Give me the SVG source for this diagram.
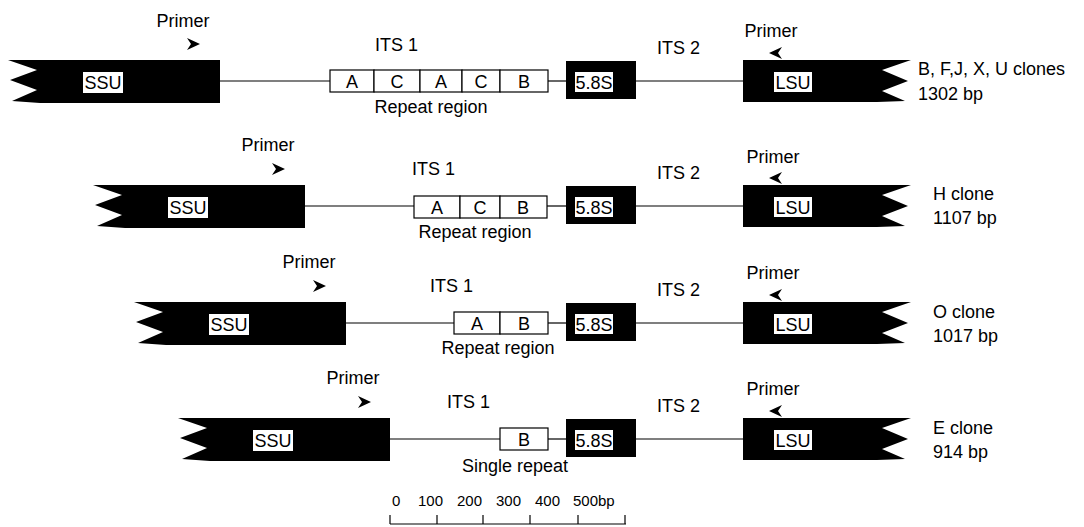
<svg xmlns="http://www.w3.org/2000/svg" width="1084" height="527" viewBox="0 0 1084 527">
<style>
text{font-family:"Liberation Sans",Arial,Helvetica,sans-serif;font-size:18px;fill:#000}
.c{text-anchor:middle}
.blk{fill:#000}
.bg{fill:#fff}
.box{fill:#fff;stroke:#000;stroke-width:1.2}
.ln{stroke:#000;stroke-width:1.2;fill:none}
.sc{font-size:15px}
</style>
<defs>
<path id="ssu" d="M0,-21 H212 V22 H32 L4,20 L29,9 L2,-1 L29,-11 Z"/>
<path id="lsu" d="M0,-21 H168 L139,-11 L165,0 L139,10 L162,20 L134,21 H0 Z"/>
<path id="arR" d="M0,0 L-13,-6 L-9,0 L-13,6 Z"/>
<path id="arL" d="M0,0 L13,-6 L9,0 L13,6 Z"/>
</defs>

<g id="connectors">
<line class="ln" x1="220" y1="81" x2="330" y2="81"/>
<line class="ln" x1="548" y1="81" x2="566" y2="81"/>
<line class="ln" x1="636" y1="81" x2="743" y2="81"/>
<line class="ln" x1="305" y1="206" x2="414" y2="206"/>
<line class="ln" x1="547" y1="206" x2="566" y2="206"/>
<line class="ln" x1="636" y1="206" x2="743" y2="206"/>
<line class="ln" x1="346" y1="323" x2="454" y2="323"/>
<line class="ln" x1="548" y1="323" x2="566" y2="323"/>
<line class="ln" x1="636" y1="323" x2="743" y2="323"/>
<line class="ln" x1="390" y1="439" x2="500" y2="439"/>
<line class="ln" x1="548" y1="439" x2="566" y2="439"/>
<line class="ln" x1="636" y1="439" x2="743" y2="439"/>
</g>

<!-- Row 1 -->
<g id="row1-ssu">
<use href="#ssu" class="blk" transform="translate(8,81)"/>
<rect class="bg" x="83" y="72" width="40" height="21"/>
<text class="c" x="103" y="89">SSU</text>
<text class="c" x="183" y="27">Primer</text>
<use href="#arR" class="blk" transform="translate(200,44)"/>
</g>
<g id="row1-its1">
<text x="375" y="51">ITS 1</text>
<rect class="box" x="330" y="70" width="44" height="22"/>
<rect class="box" x="374" y="70" width="46" height="22"/>
<rect class="box" x="420" y="70" width="42" height="22"/>
<rect class="box" x="462" y="70" width="38" height="22"/>
<rect class="box" x="500" y="70" width="48" height="22"/>
<text class="c" x="352" y="88">A</text>
<text class="c" x="397" y="88">C</text>
<text class="c" x="441" y="88">A</text>
<text class="c" x="481" y="88">C</text>
<text class="c" x="524" y="88">B</text>
<text class="c" x="431" y="113">Repeat region</text>
</g>
<g id="row1-58s">
<rect class="blk" x="566" y="61" width="70" height="38"/>
<rect class="bg" x="575" y="72" width="38" height="20"/>
<text class="c" x="594" y="89">5.8S</text>
</g>
<g id="row1-its2"><text x="657" y="54">ITS 2</text></g>
<g id="row1-lsu">
<use href="#lsu" class="blk" transform="translate(743,81)"/>
<rect class="bg" x="774" y="72" width="38" height="20"/>
<text class="c" x="793" y="89">LSU</text>
<text class="c" x="771" y="37">Primer</text>
<use href="#arL" class="blk" transform="translate(769,53)"/>
</g>
<g id="row1-label">
<text x="918" y="75">B, F,J, X, U clones</text>
<text x="918" y="100">1302 bp</text>
</g>

<!-- Row 2 -->
<g id="row2-ssu">
<use href="#ssu" class="blk" transform="translate(93,206)"/>
<rect class="bg" x="168" y="197" width="40" height="21"/>
<text class="c" x="188" y="214">SSU</text>
<text class="c" x="268" y="151">Primer</text>
<use href="#arR" class="blk" transform="translate(285,169)"/>
</g>
<g id="row2-its1">
<text x="412" y="175">ITS 1</text>
<rect class="box" x="414" y="196" width="46" height="22"/>
<rect class="box" x="460" y="196" width="40" height="22"/>
<rect class="box" x="500" y="196" width="47" height="22"/>
<text class="c" x="437" y="214">A</text>
<text class="c" x="480" y="214">C</text>
<text class="c" x="523" y="214">B</text>
<text class="c" x="475" y="238">Repeat region</text>
</g>
<g id="row2-58s">
<rect class="blk" x="566" y="186" width="70" height="38"/>
<rect class="bg" x="575" y="197" width="38" height="20"/>
<text class="c" x="594" y="214">5.8S</text>
</g>
<g id="row2-its2"><text x="657" y="179">ITS 2</text></g>
<g id="row2-lsu">
<use href="#lsu" class="blk" transform="translate(743,206)"/>
<rect class="bg" x="774" y="197" width="38" height="20"/>
<text class="c" x="793" y="214">LSU</text>
<text class="c" x="773" y="163">Primer</text>
<use href="#arL" class="blk" transform="translate(769,178)"/>
</g>
<g id="row2-label">
<text x="933" y="200">H clone</text>
<text x="933" y="224">1107 bp</text>
</g>

<!-- Row 3 -->
<g id="row3-ssu">
<use href="#ssu" class="blk" transform="translate(134,323)"/>
<rect class="bg" x="209" y="314" width="40" height="21"/>
<text class="c" x="229" y="331">SSU</text>
<text class="c" x="309" y="268">Primer</text>
<use href="#arR" class="blk" transform="translate(326,286)"/>
</g>
<g id="row3-its1">
<text x="430" y="292">ITS 1</text>
<rect class="box" x="454" y="312" width="46" height="22"/>
<rect class="box" x="500" y="312" width="48" height="22"/>
<text class="c" x="477" y="330">A</text>
<text class="c" x="524" y="330">B</text>
<text class="c" x="498" y="354">Repeat region</text>
</g>
<g id="row3-58s">
<rect class="blk" x="566" y="303" width="70" height="38"/>
<rect class="bg" x="575" y="314" width="38" height="20"/>
<text class="c" x="594" y="331">5.8S</text>
</g>
<g id="row3-its2"><text x="657" y="296">ITS 2</text></g>
<g id="row3-lsu">
<use href="#lsu" class="blk" transform="translate(743,323)"/>
<rect class="bg" x="774" y="314" width="38" height="20"/>
<text class="c" x="793" y="331">LSU</text>
<text class="c" x="773" y="279">Primer</text>
<use href="#arL" class="blk" transform="translate(769,295)"/>
</g>
<g id="row3-label">
<text x="933" y="318">O clone</text>
<text x="933" y="342">1017 bp</text>
</g>

<!-- Row 4 -->
<g id="row4-ssu">
<use href="#ssu" class="blk" transform="translate(178,439)"/>
<rect class="bg" x="253" y="430" width="40" height="21"/>
<text class="c" x="273" y="447">SSU</text>
<text class="c" x="353" y="384">Primer</text>
<use href="#arR" class="blk" transform="translate(371,402)"/>
</g>
<g id="row4-its1">
<text x="447" y="408">ITS 1</text>
<rect class="box" x="500" y="428" width="48" height="22"/>
<text class="c" x="524" y="446">B</text>
<text class="c" x="515" y="472">Single repeat</text>
</g>
<g id="row4-58s">
<rect class="blk" x="566" y="419" width="70" height="38"/>
<rect class="bg" x="575" y="430" width="38" height="20"/>
<text class="c" x="594" y="447">5.8S</text>
</g>
<g id="row4-its2"><text x="657" y="412">ITS 2</text></g>
<g id="row4-lsu">
<use href="#lsu" class="blk" transform="translate(743,439)"/>
<rect class="bg" x="774" y="430" width="38" height="20"/>
<text class="c" x="793" y="447">LSU</text>
<text class="c" x="773" y="395">Primer</text>
<use href="#arL" class="blk" transform="translate(769,411)"/>
</g>
<g id="row4-label">
<text x="933" y="434">E clone</text>
<text x="933" y="458">914 bp</text>
</g>

<!-- Scale bar -->
<g id="scale">
<line class="ln" x1="390" y1="524" x2="626" y2="524"/>
<line class="ln" x1="390" y1="515" x2="390" y2="524"/>
<line class="ln" x1="437" y1="515" x2="437" y2="524"/>
<line class="ln" x1="483" y1="515" x2="483" y2="524"/>
<line class="ln" x1="530" y1="515" x2="530" y2="524"/>
<line class="ln" x1="578" y1="515" x2="578" y2="524"/>
<line class="ln" x1="625" y1="515" x2="625" y2="524"/>
<text class="sc" x="392" y="506">0</text>
<text class="sc" x="418" y="506">100</text>
<text class="sc" x="457" y="506">200</text>
<text class="sc" x="496" y="506">300</text>
<text class="sc" x="535" y="506">400</text>
<text class="sc" x="573" y="506">500bp</text>
</g>
</svg>
